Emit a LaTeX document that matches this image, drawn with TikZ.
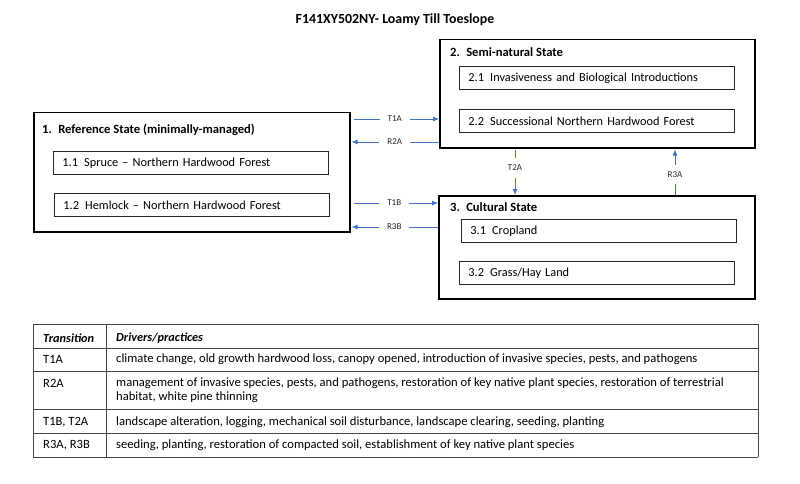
\documentclass[tikz,border=0pt]{standalone}
\usepackage{fontspec}
\setmainfont{Carlito}
\usetikzlibrary{arrows.meta}
\definecolor{arrowblue}{RGB}{68,114,196}
\definecolor{rulegray}{RGB}{70,70,70}
\tikzstyle{statebox}=[draw,line width=1.5pt,anchor=north west,inner sep=0pt]
\tikzstyle{statetitle}=[anchor=west,inner sep=0pt,font=\bfseries\fontsize{12.6}{14}\selectfont]
\tikzstyle{phasebox}=[draw=black!85,line width=0.9pt,anchor=north west,
  minimum height=23pt,inner xsep=9pt,inner ysep=0pt,text width=257pt,align=left,
  font=\fontsize{12.3}{14}\selectfont]
\tikzstyle{trans}=[arrowblue,line width=0.75pt,-{Latex[length=6pt,width=5pt]}]
\tikzstyle{translabel}=[fill=white,text=black!85,inner xsep=8pt,inner ysep=1pt,
  font=\fontsize{9}{10}\selectfont]
\tikzstyle{rule}=[rulegray,line width=0.9pt]
\tikzstyle{cell}=[anchor=west,inner sep=0pt,font=\fontsize{12.6}{14}\selectfont]

\begin{document}
\begin{tikzpicture}[x=1pt,y=-1pt]
  \useasboundingbox (0,0) rectangle (800,484);

  % Title.
  \node[font=\bfseries\fontsize{13.9}{16}\selectfont] (title) at (395,20)
    {F141XY502NY- Loamy Till Toeslope};

  % Reference state.
  \node[statebox,minimum width=316pt,minimum height=119pt] (ref) at (33,112) {};
  \node[statetitle] (reftitle) at (42,130) {1.\enspace Reference State (minimally-managed)};
  \node[phasebox] (spruce) at (53,151) {1.1\enspace Spruce -- Northern Hardwood Forest};
  \node[phasebox] (hemlock) at (54,193) {1.2\enspace Hemlock -- Northern Hardwood Forest};

  % Semi-natural state.
  \node[statebox,minimum width=315pt,minimum height=108pt] (semi) at (439,39) {};
  \node[statetitle] (semititle) at (450,52) {2.\enspace Semi-natural State};
  \node[phasebox] (invasive) at (459,66) {2.1\enspace Invasiveness and Biological Introductions};
  \node[phasebox] (successional) at (459,109) {2.2\enspace Successional Northern Hardwood Forest};

  % Cultural state.
  \node[statebox,minimum width=316pt,minimum height=103pt] (cult) at (438,195) {};
  \node[statetitle] (culttitle) at (450,207) {3.\enspace Cultural State};
  \node[phasebox] (cropland) at (461,219) {3.1\enspace Cropland};
  \node[phasebox] (hayland) at (459,261) {3.2\enspace Grass/Hay Land};

  % Transitions and restorations.
  \draw[trans,shorten <=3pt] (ref.east |- 0,119) -- node[translabel] {T1A} (semi.west |- 0,119);
  \draw[trans,shorten >=1pt] (semi.west |- 0,142) -- node[translabel] {R2A} (ref.east |- 0,142);
  \draw[trans,shorten <=3pt] (ref.east |- 0,203) -- node[translabel] {T1B} (cult.west |- 0,203);
  \draw[trans,shorten >=1pt] (cult.west |- 0,227) -- node[translabel] {R3B} (ref.east |- 0,227);
  \draw[trans,shorten <=1pt] (semi.south -| 515,0) -- node[translabel,pos=0.42,inner xsep=1pt,inner ysep=7pt] {T2A} (cult.north -| 515,0);
  \draw[trans,shorten >=1pt] (cult.north -| 675,0) -- node[translabel,pos=0.44,inner xsep=1pt,inner ysep=7pt] {R3A} (semi.south -| 675,0);

  % Table of drivers.
  \foreach \y in {324,348,371,409,433,457}
    \draw[rule] (33,\y) -- (758,\y);
  \foreach \x in {33,106,758}
    \draw[rule] (\x,324) -- (\x,457);

  \node[cell,font=\bfseries\itshape\fontsize{12.3}{14}\selectfont] (hdkey) at (43,338) {Transition};
  \node[cell,font=\bfseries\itshape\fontsize{12.3}{14}\selectfont] (hdtext) at (116,338) {Drivers/practices};
  \node[cell] (t1akey) at (43,359) {T1A};
  \node[cell] (t1atext) at (116,359)
    {climate change, old growth hardwood loss, canopy opened, introduction of invasive species, pests, and pathogens};
  \node[cell] (r2akey) at (43,383) {R2A};
  \node[cell,align=left] (r2atext) at (116,390)
    {management of invasive species, pests, and pathogens, restoration of key native plant species, restoration of terrestrial\\
     habitat, white pine thinning};
  \node[cell] (t1bkey) at (43,422) {T1B, T2A};
  \node[cell] (t1btext) at (116,422)
    {landscape alteration, logging, mechanical soil disturbance, landscape clearing, seeding, planting};
  \node[cell] (r3akey) at (43,445) {R3A, R3B};
  \node[cell] (r3atext) at (116,445)
    {seeding, planting, restoration of compacted soil, establishment of key native plant species};
\end{tikzpicture}
\end{document}
